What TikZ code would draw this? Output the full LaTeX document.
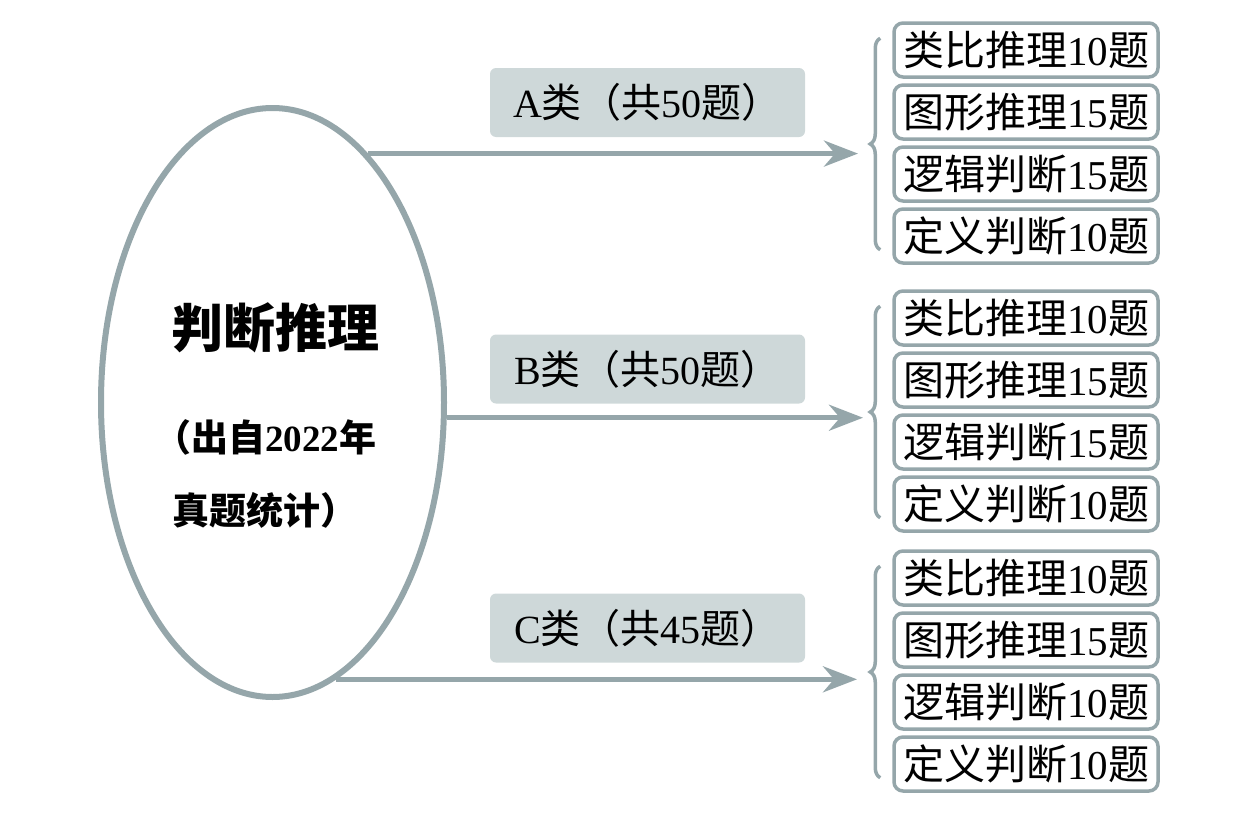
\documentclass[tikz,border=0pt]{standalone}
\usepackage{fontspec}
\setmainfont{Liberation Serif}
\newfontfamily\cjk{Noto Sans CJK SC}
\usetikzlibrary{shapes.geometric,decorations.pathreplacing,arrows.meta}
\definecolor{lineGray}{RGB}{149,166,170}
\definecolor{tagFill}{RGB}{206,216,217}
\newcommand{\tiku}[2]{{\cjk #1}#2{\cjk 题}}
\tikzset{
	oval/.style={ellipse, draw=lineGray, line width=6pt, minimum width=343pt, minimum height=589pt, inner sep=0pt},
	tag/.style={fill=tagFill, rounded corners=6pt, minimum width=315pt, minimum height=69pt, font=\fontsize{40}{46}\selectfont},
	item/.style={draw=lineGray, line width=3.5pt, fill=white, rounded corners=9pt, minimum width=264pt, minimum height=54pt, inner sep=0pt, font=\fontsize{41}{46}\selectfont},
	link/.style={draw=lineGray, line width=5pt, -{Stealth[length=34pt,width=26pt,inset=11pt]}},
	curly/.style={draw=lineGray, line width=3.5pt, decorate, decoration={brace, amplitude=10pt}},
}
\begin{document}
\begin{tikzpicture}[x=1pt, y=-1pt]
	\useasboundingbox (0,0) rectangle (1243,830);
	% 1. 椭圆及其中的标题
	\node[oval] (ell) at (272.5,402.5) {};
	\node[font=\cjk\bfseries\fontsize{52}{60}\selectfont] (title) at (275,328) {判断推理};
	\node[align=center, font=\bfseries\fontsize{37}{73}\selectfont] (sub) at (265,474) {{\cjk （出自}2022{\cjk 年}\\{\cjk 真题统计）}};
	
	% 2. 三个分类标签
	\node[tag] (tagA) at (647.5,102.5) {A{\cjk 类（共}50{\cjk 题）}};
	\node[tag] (tagB) at (647.5,369) {B{\cjk 类（共}50{\cjk 题）}};
	\node[tag] (tagC) at (647.5,628) {C{\cjk 类（共}45{\cjk 题）}};
	
	% 3. 右侧题型方框与大括号
	\foreach \g/\y/\a/\b/\c/\d in {A/50/10/15/15/10, B/318/10/15/15/10, C/578/10/15/10/10}{
		\node[item] (\g1) at (1026,\y) {\tiku{类比推理}{\a}};
		\node[item] (\g2) at (1026,{\y+62}) {\tiku{图形推理}{\b}};
		\node[item] (\g3) at (1026,{\y+124}) {\tiku{逻辑判断}{\c}};
		\node[item] (\g4) at (1026,{\y+186}) {\tiku{定义判断}{\d}};
		\draw[curly] ([xshift=-12pt,yshift=15pt]\g4.south west) -- ([xshift=-12pt,yshift=-17pt]\g1.north west);
	}
	
	% 4. 箭头（终点在大括号尖端左侧）
	\coordinate (endA) at (858,152);
	\coordinate (endB) at (863,417);
	\coordinate (endC) at (857,680);
	\draw[link] (ell.69) -- (ell.69 -| endA);
	\draw[link] (ell.-5) -- (ell.-5 -| endB);
	\draw[link] (ell.-77) -- (ell.-77 -| endC);
	
\end{tikzpicture}
\end{document}
